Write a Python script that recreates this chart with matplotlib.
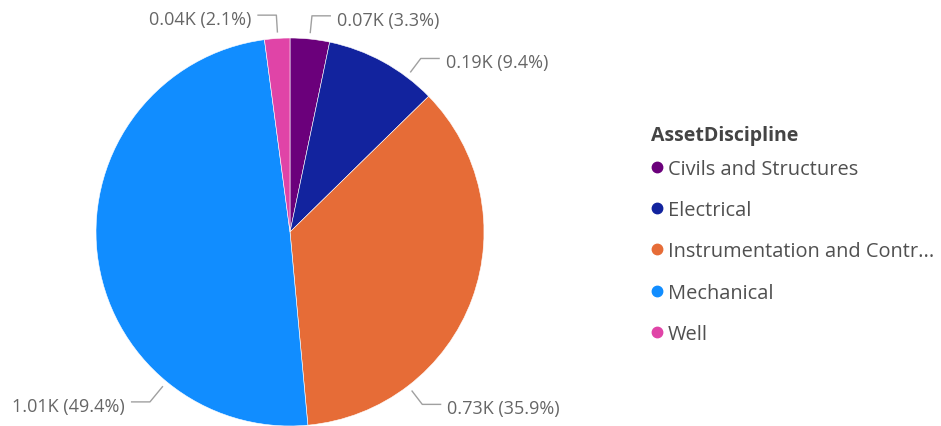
import numpy as np
import matplotlib
matplotlib.use("Agg")
import matplotlib.pyplot as plt
from matplotlib.lines import Line2D

plt.rcParams['font.family'] = ['Open Sans', 'DejaVu Sans']

# ---- data ----
categories = ["Civils and Structures", "Electrical", "Instrumentation and Contr...", "Mechanical", "Well"]
values = [67, 192, 733, 1009, 43]
colors = ["#6B007B", "#12239E", "#E66C37", "#118DFF", "#E044A7"]
legend_title = "AssetDiscipline"

# ---- layout / style ----
W, H = 941, 427
cx, cy, R = 290, 194, 194
anchor_angles = [84.2, 53.0, -52.5, -129.5, 93.6]  # where leader lines leave the pie (deg)
anchor_r = [1.03, 1.03, 1.03, 1.03, 1.03]
elbow_r = [1.12, 1.12, 1.12, 1.135, 1.12]
side = [1, 1, 1, -1, -1]  # horizontal direction of label
leg_len = 19
text_gap = 6
text_drop = 4
label_color = "#666666"

fig = plt.figure(figsize=(W / 100, H / 100), dpi=100)
ax = fig.add_axes([0, 0, 1, 1])
ax.pie(values, colors=colors, startangle=90, counterclock=False,
       center=(cx, cy), radius=R, frame=True,
       wedgeprops=dict(edgecolor="white", linewidth=0.4))
ax.set_xlim(0, W)
ax.set_ylim(0, H)
ax.set_aspect("equal")
ax.axis("off")

total = sum(values)
for v, a, ra, re, s in zip(values, anchor_angles, anchor_r, elbow_r, side):
    t = np.deg2rad(a)
    x0, y0 = cx + R * ra * np.cos(t), cy + R * ra * np.sin(t)
    x1, y1 = cx + R * re * np.cos(t), cy + R * re * np.sin(t)
    x2 = x1 + s * leg_len
    ax.plot([x0, x1, x2], [y0, y1, y1], color="#a0a0a0", lw=1.0, solid_capstyle="butt")
    txt = f"{v/1000:.2f}K ({v/total*100:.1f}%)"
    ax.text(x2 + s * text_gap, y1 - text_drop, txt, ha="left" if s > 0 else "right",
            va="center", fontsize=13, color=label_color)

fig.text(651 / W, 1 - 136 / H, legend_title, ha="left", va="center",
         fontsize=14, fontweight="bold", color="#444444")

handles = [Line2D([], [], marker="o", linestyle="", markersize=7.5,
                  markerfacecolor=c, markeredgecolor=c) for c in colors]
leg = fig.legend(handles, categories, loc="upper left",
                 bbox_to_anchor=(651 / W, 1 - 160 / H), frameon=False,
                 fontsize=14.4, handlelength=0.6, handletextpad=0.25,
                 labelspacing=1.06, borderpad=0, borderaxespad=0)
for t in leg.get_texts():
    t.set_color("#505050")

fig.savefig("out.png", dpi=100)
